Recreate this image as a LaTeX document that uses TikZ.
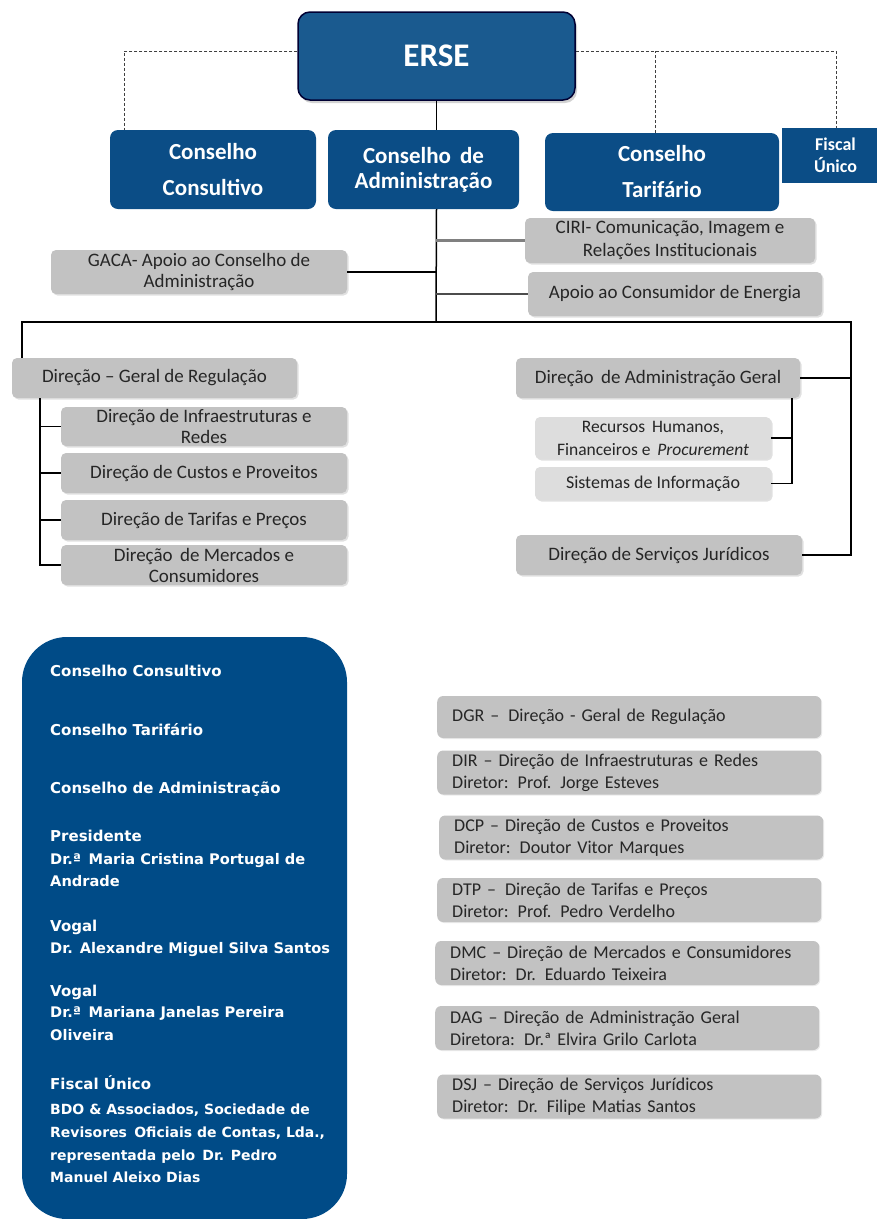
\documentclass[tikz,border=0pt]{standalone}
\usepackage{fontspec}
\setmainfont{Carlito}
\newfontfamily\panelfont{DejaVu Sans}
\usetikzlibrary{shadows}
\definecolor{ersefill}{HTML}{1A5A8F}
\definecolor{boxblue}{HTML}{0B4D86}
\definecolor{panelblue}{HTML}{004B87}
\definecolor{graybox}{HTML}{C2C2C2}
\definecolor{lightbox}{HTML}{DDDDDD}
\definecolor{txtgray}{HTML}{262626}
\begin{document}
\begin{tikzpicture}[x=1pt,y=-1pt,
  bluebox/.style={fill=boxblue, rounded corners=8pt, text=white, align=center, inner sep=0pt,
    font=\bfseries\fontsize{23}{36}\selectfont},
  gbox/.style={fill=graybox, rounded corners=5pt, text=txtgray, align=center, inner sep=0pt,
    font=\fontsize{19}{22}\selectfont,
    general shadow={fill=black!12, shadow xshift=1.5pt, shadow yshift=-1.5pt}},
  lbox/.style={gbox, fill=lightbox},
  listbox/.style={fill=graybox, rounded corners=6pt, text=txtgray, align=left, anchor=west,
    inner xsep=15pt, inner ysep=0pt, text width=354pt, minimum height=44pt,
    font=\fontsize{18}{22}\selectfont,
    general shadow={fill=black!8, shadow xshift=1pt, shadow yshift=-1pt}},
  ptxt/.style={anchor=base west, inner sep=0pt, text=white, font=\panelfont\bfseries\fontsize{14.6}{17}\selectfont},
  psmall/.style={ptxt, font=\panelfont\bfseries\fontsize{14}{16}\selectfont},
  phead/.style={ptxt, font=\panelfont\bfseries\fontsize{15}{18}\selectfont},
  dline/.style={draw=black!75, line width=1pt, dash pattern=on 3pt off 2pt},
  sline/.style={draw=black, line width=1.5pt},
]
\useasboundingbox (0,0) rectangle (877,1219);

% top level
\node[fill=ersefill, draw=black!80!blue, line width=1.5pt, rounded corners=12pt,
  minimum width=277pt, minimum height=88pt, text=white,
  font=\bfseries\fontsize{33}{36}\selectfont,
  drop shadow={fill=black!35, shadow xshift=2pt, shadow yshift=-3pt}] (erse) at (436.5,56) {ERSE};

\node[bluebox, minimum width=206pt, minimum height=79pt] (cc) at (213,169.5) {Conselho\\Consultivo};
\node[bluebox, minimum width=191pt, minimum height=79pt, font=\bfseries\fontsize{23}{25}\selectfont] (ca) at (423.5,169.5) {Conselho\, de\\Administração};
\node[bluebox, minimum width=234pt, minimum height=78pt] (ct) at (662,172) {Conselho\\Tarifário};
\node[fill=boxblue, text=white, align=center, inner sep=0pt, minimum width=95pt, minimum height=55pt,
  font=\bfseries\fontsize{18}{22}\selectfont] (fu) at (829.5,155.5) {\hspace*{12pt}Fiscal\\\hspace*{12pt}Único};

\coordinate (ersL) at ([yshift=5pt]erse.west);
\coordinate (ersR) at ([yshift=5pt]erse.east);
\coordinate (ccTop) at (124,130);
\coordinate (ctTop) at (655,133);
\coordinate (fuTop) at (836,128);
\draw[dline] (ersL) -| (ccTop);
\draw[dline] (ersR) -| (fuTop);
\draw[dline] (ctTop) -- (ctTop|-ersR);
\draw[sline] (erse.south) -- (erse.south|-ca.north);

% staff units
\node[gbox, minimum width=296pt, minimum height=44pt, font=\fontsize{19}{21}\selectfont] (gaca) at (199,272) {GACA- Apoio ao Conselho de\\Administração};
\node[gbox, minimum width=290pt, minimum height=45pt, font=\fontsize{19}{23}\selectfont] (ciri) at (670,240.5) {CIRI- Comunicação, Imagem e\\Relações Institucionais};
\node[gbox, minimum width=294pt, minimum height=44pt] (ace) at (675,294) {Apoio ao Consumidor de Energia};

\coordinate (trunkBot) at (436,322);
\coordinate (busL) at (22,322);
\coordinate (busR) at (851,322);
\draw[sline] (erse.south|-ca.south) -- (trunkBot);
\draw[sline] (gaca.east) -- (gaca.east-|trunkBot);
\draw[draw=black!50, line width=2.5pt] (ciri.west) -- (ciri.west-|trunkBot);
\draw[draw=black!70, line width=2pt] (ace.west) -- (ace.west-|trunkBot);

% directions
\node[gbox, minimum width=285pt, minimum height=40pt] (dgr) at (154.5,378) {Direção – Geral de Regulação};
\node[gbox, minimum width=284pt, minimum height=40pt] (dag) at (658,378) {Direção\, de Administração Geral};
\node[gbox, minimum width=286pt, minimum height=39pt, font=\fontsize{19}{21}\selectfont] (dir) at (204,426.5) {Direção de Infraestruturas e\\Redes};
\node[gbox, minimum width=286pt, minimum height=40pt] (dcp) at (204,473) {Direção de Custos e Proveitos};
\node[gbox, minimum width=286pt, minimum height=40pt] (dtp) at (204,520) {Direção de Tarifas e Preços};
\node[gbox, minimum width=286pt, minimum height=40pt, font=\fontsize{19}{21}\selectfont] (dmc) at (204,565) {Direção\, de Mercados e\\Consumidores};
\node[lbox, minimum width=236pt, minimum height=42pt, font=\fontsize{17.5}{23}\selectfont] (rh) at (653,438) {Recursos\, Humanos,\\Financeiros e\, \textit{Procurement}};
\node[lbox, minimum width=236pt, minimum height=33pt, font=\fontsize{18}{20}\selectfont] (si) at (653,483.5) {Sistemas de Informação};
\node[gbox, minimum width=286pt, minimum height=40pt] (dsj) at (659,555) {Direção de Serviços Jurídicos};

\coordinate (subL) at (40,398);
\coordinate (subR) at (792,398);
\draw[sline] (busL|-dgr.north) -- (busL) -- (busR) |- (dsj.east);
\draw[sline] (dag.east) -- (dag.east-|busR);
\draw[sline] (subL|-dgr.south) |- (dmc.west);
\draw[sline] (subL|-dir.west) -- (dir.west);
\draw[sline] (subL|-dcp.west) -- (dcp.west);
\draw[sline] (subL|-dtp.west) -- (dtp.west);
\draw[sline] (subR|-dag.south) |- (si.east);
\draw[sline] (rh.east) -- (rh.east-|subR);

% left panel
\node[fill=panelblue, rounded corners=45pt, minimum width=325pt, minimum height=582pt, inner sep=0pt] (panel) at (184.5,928) {};
\node[phead] (p1) at (50,676) {Conselho Consultivo};
\node[phead] (p2) at (50,735) {Conselho Tarifário};
\node[phead] (p3) at (50,793) {Conselho de Administração};
\node[phead] (p4) at (50,841) {Presidente};
\node[ptxt] (p5) at (50,864) {Dr.ª\, Maria Cristina Portugal de};
\node[ptxt] (p6) at (50,886) {Andrade};
\node[phead] (p7) at (50,931) {Vogal};
\node[ptxt] (p8) at (50,953) {Dr. Alexandre Miguel Silva Santos};
\node[phead] (p9) at (50,996) {Vogal};
\node[ptxt] (p10) at (50,1017) {Dr.ª\, Mariana Janelas Pereira};
\node[ptxt] (p11) at (50,1040) {Oliveira};
\node[phead] (p12) at (50,1089) {Fiscal Único};
\node[psmall] (p13) at (50,1114) {BDO \& Associados, Sociedade de};
\node[psmall] (p14) at (50,1137) {Revisores\, Oficiais de Contas, Lda.,};
\node[psmall] (p15) at (50,1160) {representada pelo\, Dr. Pedro};
\node[psmall] (p16) at (50,1182) {Manuel Aleixo Dias};

% right list
\node[listbox, minimum height=42pt] (l1) at (437,717) {DGR –\, Direção - Geral de Regulação};
\node[listbox] (l2) at (437,772.5) {DIR – Direção de Infraestruturas e Redes\\Diretor: Prof. Jorge Esteves};
\node[listbox] (l3) at (439,837.5) {DCP – Direção de Custos e Proveitos\\Diretor: Doutor Vitor Marques};
\node[listbox] (l4) at (437,900) {DTP –\, Direção de Tarifas e Preços\\Diretor: Prof. Pedro Verdelho};
\node[listbox] (l5) at (435,963) {DMC – Direção de Mercados e Consumidores\\Diretor: Dr. Eduardo Teixeira};
\node[listbox] (l6) at (435,1028) {DAG – Direção de Administração Geral\\Diretora: Dr.ª Elvira Grilo Carlota};
\node[listbox] (l7) at (437,1096.5) {DSJ – Direção de Serviços Jurídicos\\Diretor: Dr. Filipe Matias Santos};
\end{tikzpicture}
\end{document}
